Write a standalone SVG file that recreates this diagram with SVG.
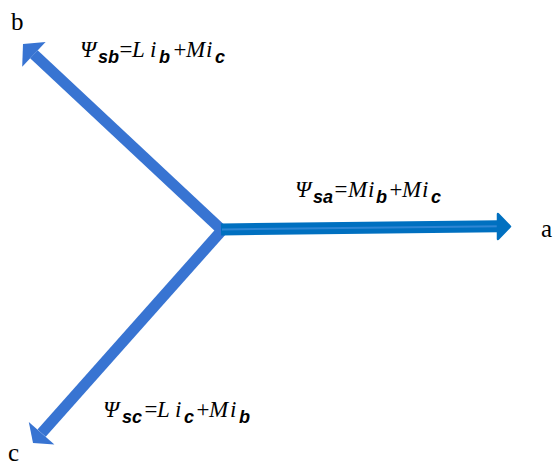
<svg xmlns="http://www.w3.org/2000/svg" width="556" height="466" viewBox="0 0 556 466">
<style>
.m{font-family:"Liberation Serif","DejaVu Serif",serif;font-style:italic;font-size:23px;fill:#000}
.s{font-family:"Liberation Sans","DejaVu Sans",sans-serif;font-style:italic;font-weight:bold;font-size:18px;fill:#000}
.ax{font-family:"Liberation Serif","DejaVu Serif",serif;font-size:25px;fill:#000}
.d{stroke:#3874D2;stroke-width:11;fill:none}
.dh{fill:#3874D2}
</style>
<rect width="556" height="466" fill="#fff"/>
<g id="connectors">
  <line class="d" x1="224" y1="232" x2="33.9" y2="54.3"/>
  <polygon class="dh" points="23,44 45.6,41.9 22.2,66.7"/>
  <line class="d" x1="224" y1="228" x2="41.6" y2="433.2"/>
  <polygon class="dh" points="33,443 28.8,422 54.4,444.4"/>
  <line x1="221" y1="229.5" x2="499" y2="226.2" stroke="#0070C0" stroke-width="12"/>
  <line x1="222" y1="229.5" x2="500" y2="226.2" stroke="#2E86D4" stroke-width="2"/>
  <polygon points="498,214 510,226.5 498,239" fill="#0070C0" stroke="#0070C0" stroke-width="2.5" stroke-linejoin="round"/>
</g>
<g id="label-a">
  <text class="ax" x="541" y="237">a</text>
</g>
<g id="label-b">
  <text class="ax" x="11" y="30">b</text>
</g>
<g id="label-c">
  <text class="ax" x="8" y="461">c</text>
</g>
<g id="eq-a">
  <text><tspan class="m" x="295" y="197">Ψ</tspan><tspan class="s" x="313" y="203">sa</tspan><tspan class="m" x="333" y="197">=</tspan><tspan class="m" x="348" y="197">M</tspan><tspan class="m" x="368" y="197">i</tspan><tspan class="s" x="376" y="203">b</tspan><tspan class="m" x="388" y="197">+</tspan><tspan class="m" x="402" y="197">M</tspan><tspan class="m" x="422" y="197">i</tspan><tspan class="s" x="431" y="203">c</tspan></text>
</g>
<g id="eq-b">
  <text><tspan class="m" x="80" y="57">Ψ</tspan><tspan class="s" x="98" y="63">sb</tspan><tspan class="m" x="118" y="57">=</tspan><tspan class="m" x="132" y="57">L</tspan><tspan class="m" x="150" y="57">i</tspan><tspan class="s" x="159" y="63">b</tspan><tspan class="m" x="172" y="57">+</tspan><tspan class="m" x="186" y="57">M</tspan><tspan class="m" x="206" y="57">i</tspan><tspan class="s" x="215" y="63">c</tspan></text>
</g>
<g id="eq-c">
  <text><tspan class="m" x="103" y="417">Ψ</tspan><tspan class="s" x="122" y="423">sc</tspan><tspan class="m" x="143" y="417">=</tspan><tspan class="m" x="157" y="417">L</tspan><tspan class="m" x="175" y="417">i</tspan><tspan class="s" x="184" y="423">c</tspan><tspan class="m" x="195" y="417">+</tspan><tspan class="m" x="209" y="417">M</tspan><tspan class="m" x="230" y="417">i</tspan><tspan class="s" x="239" y="423">b</tspan></text>
</g>
</svg>
